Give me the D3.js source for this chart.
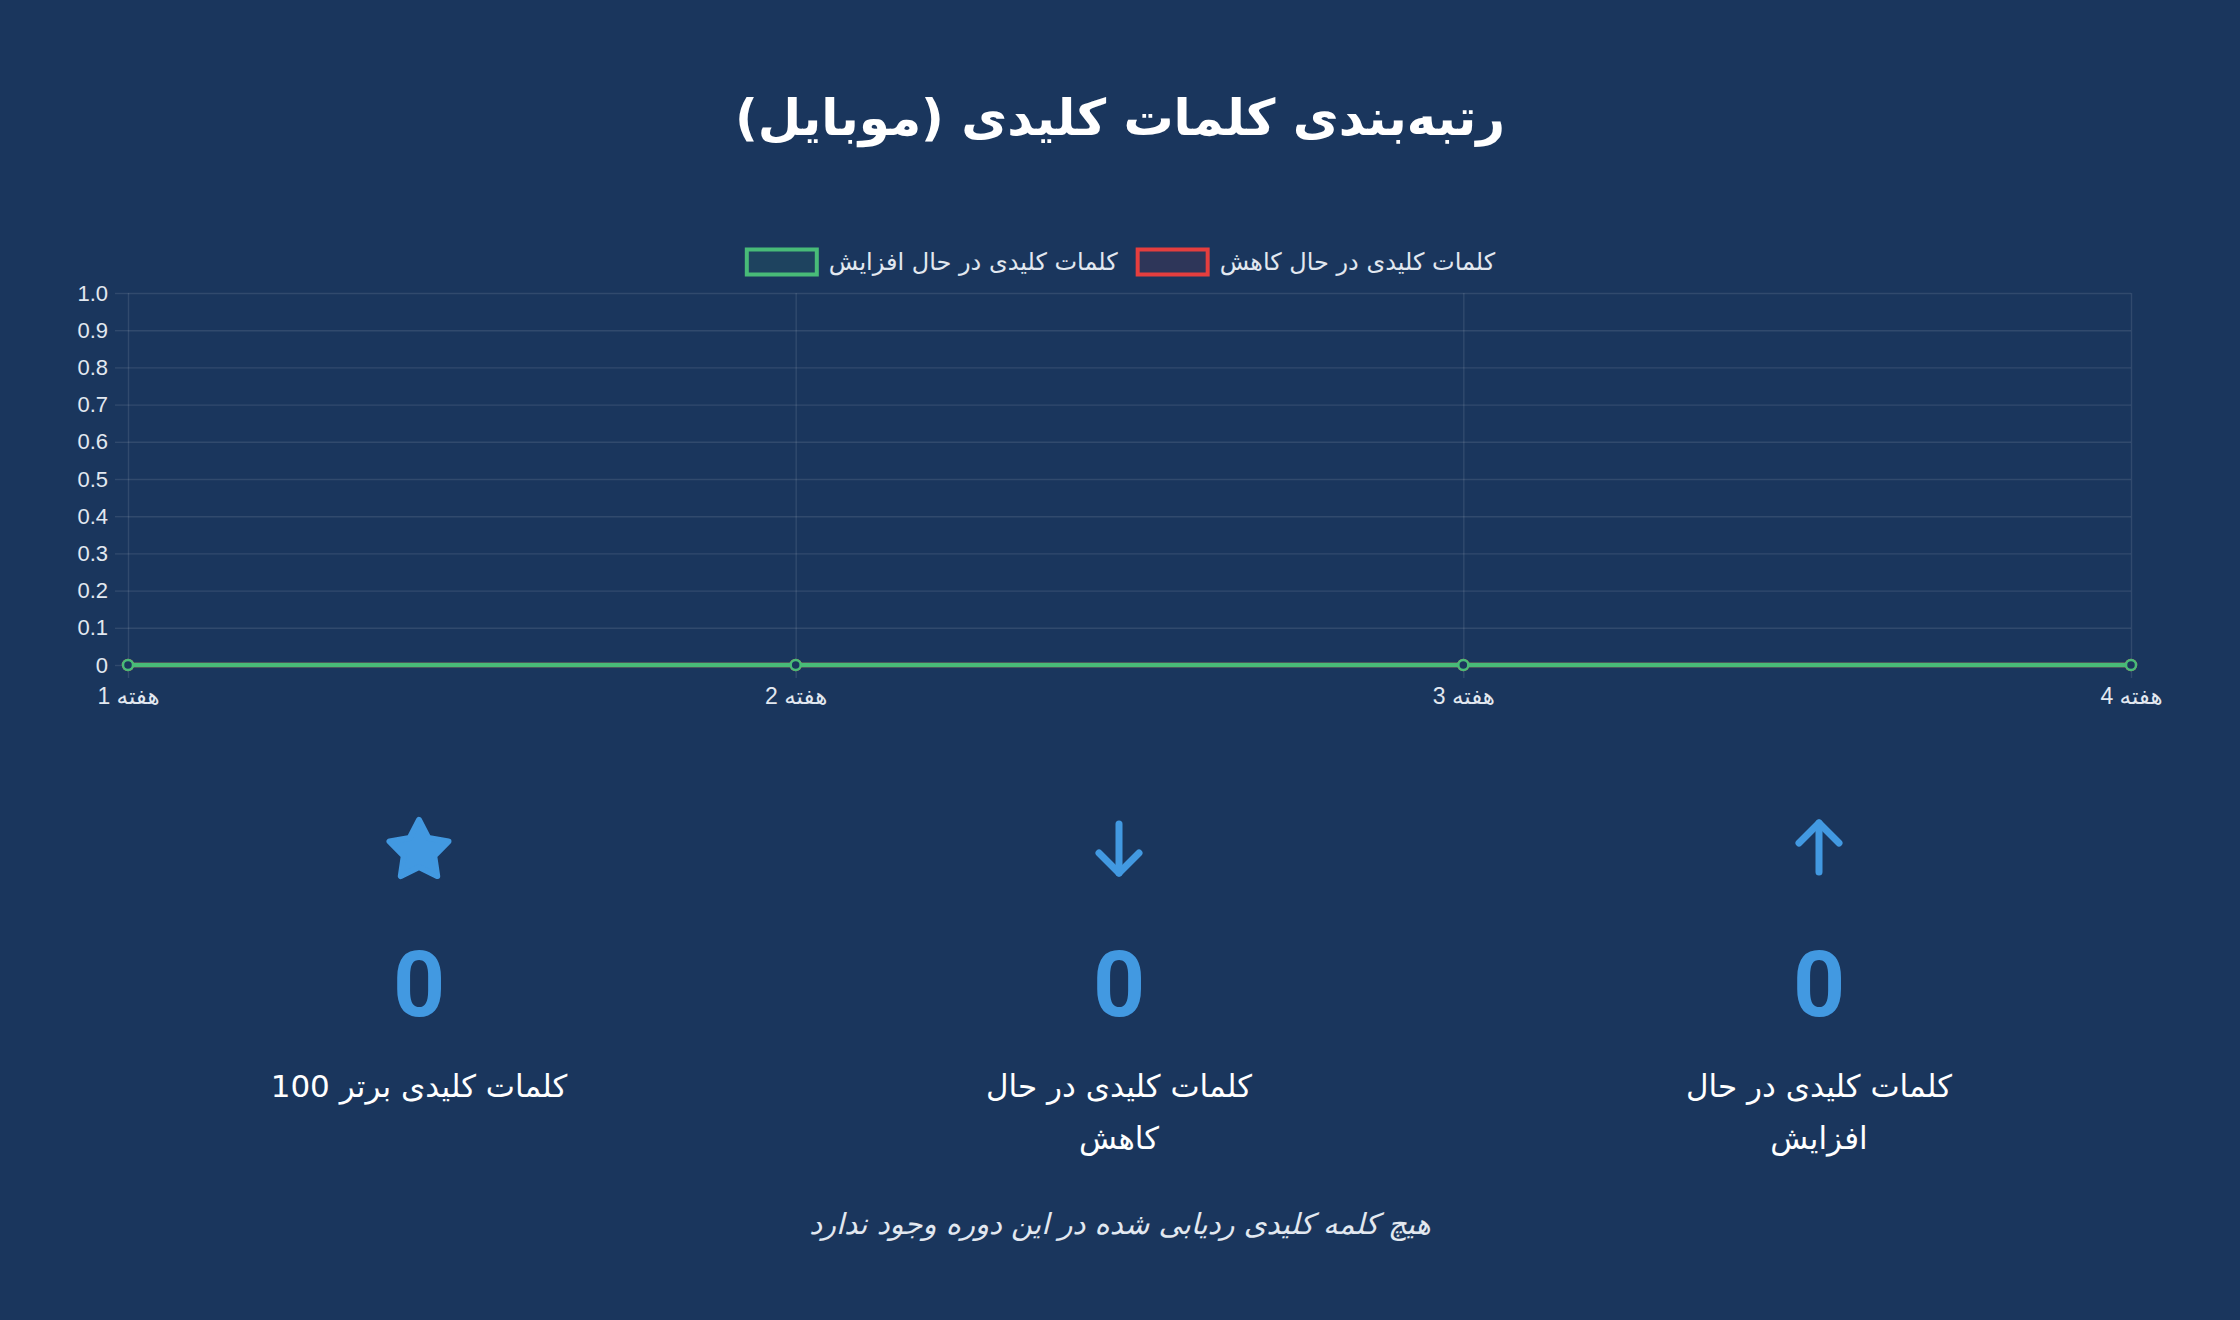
<!DOCTYPE html>
<html lang="fa">
<head>
<meta charset="utf-8">
<script src="https://cdn.jsdelivr.net/npm/d3@7"></script>
<style>
  html, body { margin: 0; padding: 0; background: #1a365d; }
  svg { display: block; }
  .rtl { direction: rtl; unicode-bidi: embed; }
</style>
</head>
<body>
<script>
// Size of the page
const w = 2240;
const h = 1320;

// Chart data
const weeks = ["هفته 1", "هفته 2", "هفته 3", "هفته 4"];
const risingValues = [0, 0, 0, 0];
const fallingValues = [0, 0, 0, 0];
const yTicks = [0, 0.1, 0.2, 0.3, 0.4, 0.5, 0.6, 0.7, 0.8, 0.9, 1.0];

// Legend entries, left to right
const seriesNames = ["کلمات کلیدی در حال افزایش", "کلمات کلیدی در حال کاهش"];
const seriesColors = ["#48bb78", "#e53e3e"];

// Stat cards, left to right
const statIcons = ["star", "down", "up"];
const statValues = [0, 0, 0];
const statLabels = [
  ["کلمات کلیدی برتر 100"],
  ["کلمات کلیدی در حال", "کاهش"],
  ["کلمات کلیدی در حال", "افزایش"]
];

const titleText = "رتبه‌بندی کلمات کلیدی (موبایل)";
const emptyText = "هیچ کلمه کلیدی ردیابی شده در این دوره وجود ندارد";

const textColor = "#ffffff";
const blue = "#4299e1";
const gridColor = "rgba(255,255,255,0.1)";

// Plot area
const plotLeft = 128, plotRight = 2131, plotTop = 293, plotBottom = 665;

const svg = d3.select("body").append("svg")
  .attr("width", w)
  .attr("height", h);

svg.append("rect").attr("width", w).attr("height", h).attr("fill", "#1a365d");

// Title
svg.append("text")
  .attr("class", "rtl")
  .attr("x", w / 2)
  .attr("y", 135)
  .attr("text-anchor", "middle")
  .attr("fill", textColor)
  .style("font-family", "DejaVu Sans")
  .style("font-weight", "bold")
  .style("font-size", "50px")
  .text(titleText);

// Scales
const x = d3.scalePoint().domain(weeks).range([plotLeft, plotRight]);
const y = d3.scaleLinear().domain([0, 1]).range([plotBottom, plotTop]);

// Horizontal grid
svg.append("g")
  .attr("transform", `translate(${plotLeft},0)`)
  .call(d3.axisLeft(y).tickValues(yTicks).tickSize(-(plotRight - plotLeft)).tickFormat(""))
  .call(g => g.select(".domain").remove())
  .call(g => g.selectAll("line").attr("stroke", gridColor).attr("stroke-width", 1.4));

// Vertical grid
svg.append("g")
  .attr("transform", `translate(0,${plotTop})`)
  .call(d3.axisTop(x).tickSize(-(plotBottom - plotTop)).tickFormat(""))
  .call(g => g.select(".domain").remove())
  .call(g => g.selectAll("line").attr("stroke", gridColor).attr("stroke-width", 1.4));

// Y axis with small tick marks and labels
svg.append("g")
  .attr("transform", `translate(${plotLeft},0)`)
  .call(d3.axisLeft(y).tickValues(yTicks).tickSize(13).tickPadding(7)
    .tickFormat(d => d === 0 ? "0" : d.toFixed(1)))
  .call(g => g.select(".domain").remove())
  .call(g => g.selectAll("line").attr("stroke", gridColor).attr("stroke-width", 1.4))
  .call(g => g.selectAll("text")
    .attr("fill", "#e2e8f0")
    .style("font-family", "Liberation Sans, Arial, sans-serif")
    .style("font-size", "22px"));

// X axis with tick marks and labels
svg.append("g")
  .attr("transform", `translate(0,${plotBottom})`)
  .call(d3.axisBottom(x).tickSize(13).tickPadding(10))
  .call(g => g.select(".domain").remove())
  .call(g => g.selectAll("line").attr("stroke", gridColor).attr("stroke-width", 1.4))
  .call(g => g.selectAll("text")
    .attr("class", "rtl")
    .attr("fill", "#e2e8f0")
    .style("font-family", "Liberation Sans, DejaVu Sans, sans-serif")
    .style("font-size", "23px"));

// Lines: falling first, rising on top
const line = d3.line().x((d, i) => x(weeks[i])).y(d => y(d));
const series = [
  { values: fallingValues, color: seriesColors[1] },
  { values: risingValues, color: seriesColors[0] }
];

series.forEach(s => {
  svg.append("path")
    .datum(s.values)
    .attr("d", line)
    .attr("fill", "none")
    .attr("stroke", s.color)
    .attr("stroke-width", 4.5);
  svg.selectAll(null)
    .data(s.values)
    .enter()
    .append("circle")
    .attr("cx", (d, i) => x(weeks[i]))
    .attr("cy", d => y(d))
    .attr("r", 5)
    .attr("fill", "#1a365d")
    .attr("stroke", s.color)
    .attr("stroke-width", 2.5);
});

// Legend
const legend = svg.append("g");
const boxW = 74, boxH = 25, gapText = 10, gapItem = 18;
let cursor = 0;
seriesNames.forEach((name, i) => {
  const item = legend.append("g").attr("transform", `translate(${cursor},0)`);
  item.append("rect")
    .attr("x", 2).attr("y", -boxH / 2)
    .attr("width", boxW - 4).attr("height", boxH)
    .attr("fill", i === 0 ? "rgba(72,187,120,0.1)" : "rgba(229,62,62,0.1)")
    .attr("stroke", seriesColors[i])
    .attr("stroke-width", 4);
  const t = item.append("text")
    .attr("x", boxW + gapText)
    .attr("y", 8)
    .attr("fill", "#e2e8f0")
    .style("font-family", "DejaVu Sans")
    .style("font-size", "24px")
    .text(name);
  cursor += boxW + gapText + t.node().getComputedTextLength() + gapItem;
});
const legendW = cursor - gapItem;
legend.attr("transform", `translate(${w / 2 - legendW / 2},262)`);

// Stat cards
const cardX = d3.scalePoint().domain(d3.range(statIcons.length)).range([419, 1819]);

const cards = svg.selectAll(".card")
  .data(statIcons)
  .enter()
  .append("g")
  .attr("class", "card")
  .attr("transform", (d, i) => `translate(${cardX(i)},0)`);

// star icon (rounded 5-point star)
function starPath(R, r) {
  const pts = d3.range(10).map(k => {
    const a = -Math.PI / 2 + k * Math.PI / 5;
    const rad = k % 2 === 0 ? R : r;
    return [rad * Math.cos(a), rad * Math.sin(a)];
  });
  return "M" + pts.map(p => p.join(",")).join("L") + "Z";
}

cards.each(function(icon) {
  const g = d3.select(this);
  if (icon === "star") {
    g.append("path")
      .attr("d", starPath(31, 16))
      .attr("transform", "translate(0,851)")
      .attr("fill", blue)
      .attr("stroke", blue)
      .attr("stroke-width", 6)
      .attr("stroke-linejoin", "round");
  } else {
    const dir = icon === "down" ? 1 : -1;
    const tipY = icon === "down" ? 873 : 823;
    const tailY = icon === "down" ? 824 : 872;
    g.append("line")
      .attr("x1", 0).attr("x2", 0)
      .attr("y1", tailY).attr("y2", tipY)
      .attr("stroke", blue).attr("stroke-width", 7).attr("stroke-linecap", "round");
    g.append("path")
      .attr("d", `M-20,${tipY - dir * 20}L0,${tipY}L20,${tipY - dir * 20}`)
      .attr("fill", "none")
      .attr("stroke", blue).attr("stroke-width", 7)
      .attr("stroke-linecap", "round").attr("stroke-linejoin", "round");
  }
});

cards.append("text")
  .attr("y", 1016)
  .attr("text-anchor", "middle")
  .attr("fill", blue)
  .style("font-family", "Roboto, sans-serif")
  .style("font-weight", "bold")
  .style("font-size", "91px")
  .text((d, i) => statValues[i]);

cards.each(function(d, i) {
  const g = d3.select(this);
  statLabels[i].forEach((lineText, j) => {
    g.append("text")
      .attr("class", "rtl")
      .attr("y", 1097 + j * 52)
      .attr("text-anchor", "middle")
      .attr("fill", textColor)
      .style("font-family", "DejaVu Sans")
      .style("font-size", "31px")
      .text(lineText);
  });
});

// Empty message
svg.append("text")
  .attr("class", "rtl")
  .attr("x", w / 2)
  .attr("y", 1234)
  .attr("text-anchor", "middle")
  .attr("fill", "#e2e8f0")
  .style("font-family", "DejaVu Sans")
  .style("font-style", "italic")
  .style("font-size", "29px")
  .text(emptyText);
</script>
</body>
</html>
